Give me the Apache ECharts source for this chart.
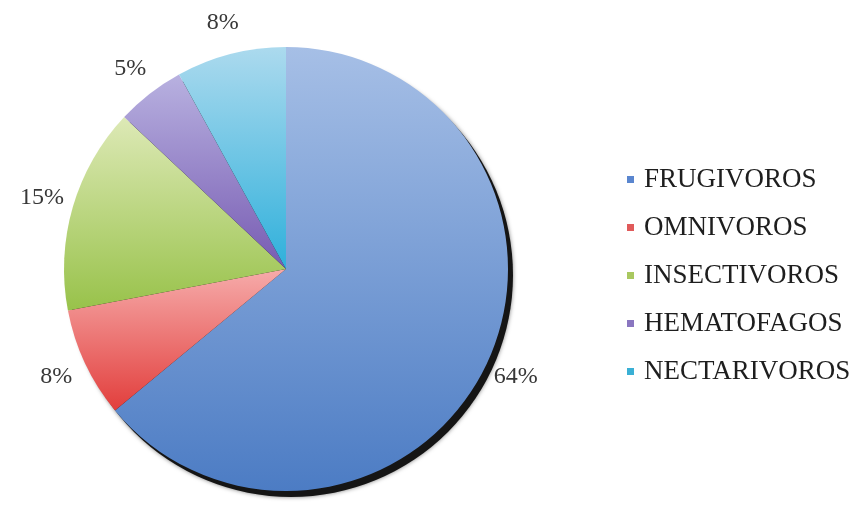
<!DOCTYPE html>
<html>
<head>
<meta charset="utf-8">
<script src="https://cdn.jsdelivr.net/npm/echarts@6/dist/echarts.min.js"></script>
<style>
html,body{margin:0;padding:0;background:#fff;}
#chart{width:855px;height:506px;}
</style>
</head>
<body>
<div id="chart"></div>
<script>
const categories = ['FRUGIVOROS', 'OMNIVOROS', 'INSECTIVOROS', 'HEMATOFAGOS', 'NECTARIVOROS'];
const values = [64, 8, 15, 5, 8];
const lightColors = ['#a6bfe6', '#f6abaa', '#dde9b6', '#b8b1e0', '#acdaee'];
const darkColors = ['#4c7cc4', '#e23e3c', '#98c24a', '#775bb2', '#2fb0db'];
const legendColors = ['#5a86cf', '#e05a5a', '#a9c860', '#8a76c0', '#3ab0d5'];

const total = values.reduce((a, b) => a + b, 0);
const center = [286, 269];
const R = 222;

const chart = echarts.init(document.getElementById('chart'), null, {renderer: 'canvas'});

const mainData = categories.map((name, i) => ({
  name: name,
  value: values[i],
  itemStyle: {
    color: new echarts.graphic.LinearGradient(0, 0, 0, 1, [
      {offset: 0, color: lightColors[i]},
      {offset: 1, color: darkColors[i]}
    ])
  }
}));

const labelData = categories.map((name, i) => ({name: name, value: values[i]}));

chart.setOption({
  animation: false,
  backgroundColor: '#ffffff',
  legend: {
    orient: 'vertical',
    left: 622,
    top: 161,
    icon: 'rect',
    itemWidth: 7,
    itemHeight: 7,
    itemGap: 21,
    selectedMode: false,
    textStyle: {
      fontFamily: 'Liberation Serif',
      fontSize: 27,
      lineHeight: 27,
      color: '#1e1e1e',
      padding: [0, 0, 0, 5]
    },
    data: categories.map((name, i) => ({name: name, itemStyle: {color: legendColors[i]}}))
  },
  series: [
    {
      type: 'pie',
      silent: true,
      center: [center[0] + 5, center[1] + 6],
      radius: R,
      z: 1,
      label: {show: false},
      labelLine: {show: false},
      itemStyle: {color: '#151515', shadowBlur: 4, shadowColor: 'rgba(0,0,0,0.5)'},
      data: [{name: '', value: total}]
    },
    {
      type: 'pie',
      center: center,
      radius: R,
      startAngle: 90,
      clockwise: true,
      z: 2,
      label: {show: false},
      labelLine: {show: false},
      itemStyle: {borderWidth: 0},
      emphasis: {disabled: true},
      data: mainData
    },
    {
      type: 'pie',
      silent: true,
      center: center,
      radius: [R + 14, R + 44],
      startAngle: 90,
      clockwise: true,
      z: 3,
      itemStyle: {color: 'rgba(0,0,0,0)'},
      emphasis: {disabled: true},
      labelLine: {show: false},
      label: {
        show: true,
        position: 'inside',
        rotate: 0,
        fontFamily: 'Liberation Serif',
        fontSize: 24,
        color: '#383838',
        formatter: p => Math.round(p.percent) + '%'
      },
      data: labelData
    }
  ]
});
</script>
</body>
</html>
